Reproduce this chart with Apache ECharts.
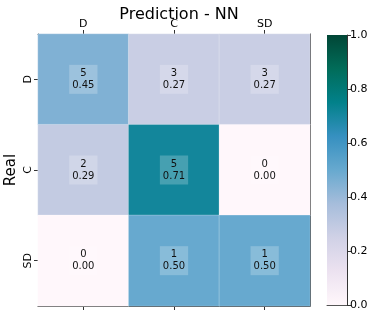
<!DOCTYPE html>
<html><head><meta charset="utf-8">
<script src="https://cdn.jsdelivr.net/npm/echarts@6/dist/echarts.min.js"></script>
<style>html,body{margin:0;padding:0;background:#fff}#c{width:374px;height:317px}</style>
</head><body><div id="c"></div>
<script>
var predLabels = ['D', 'C', 'SD'];
var realLabels = ['D', 'C', 'SD'];
// rows = real, columns = prediction
var counts = [
  [5, 3, 3],
  [2, 5, 0],
  [0, 1, 1]
];
var ratios = [
  [0.45, 0.27, 0.27],
  [0.29, 0.71, 0.00],
  [0.00, 0.50, 0.50]
];
var colorbarTicks = [0, 0.2, 0.4, 0.6, 0.8, 1.0];
var cmap = ['#fff7fb','#ece2f0','#d0d1e6','#a6bddb','#67a9cf','#3690c0','#02818a','#016c59','#014636'];

var data = [];
for (var r = 0; r < realLabels.length; r++) {
  for (var c = 0; c < predLabels.length; c++) {
    data.push([c, r, ratios[r][c], counts[r][c]]);
  }
}
var FONT = 'DejaVu Sans';
var chart = echarts.init(document.getElementById('c'), null, {renderer: 'canvas'});
chart.setOption({
  animation: false,
  title: {
    text: 'Prediction - NN', left: 174, top: 2, textAlign: 'center',
    textStyle: {fontFamily: FONT, fontSize: 16, fontWeight: 'normal', color: '#000'}
  },
  grid: [
    {left: 38, top: 34, width: 272, height: 272, containLabel: false, outerBoundsMode: 'none'},
    {left: 327, top: 35, width: 20, height: 270, containLabel: false, outerBoundsMode: 'none'}
  ],
  xAxis: [
    {type: 'category', data: predLabels, position: 'top', gridIndex: 0,
     axisLine: {show: true, lineStyle: {color: '#333'}},
     axisTick: {show: true, alignWithLabel: true, length: 4, lineStyle: {color: '#333'}},
     axisLabel: {fontFamily: FONT, fontSize: 11, color: '#000', margin: 4},
     splitArea: {show: false}},
    {type: 'category', data: predLabels, position: 'bottom', gridIndex: 0,
     axisLine: {show: true, lineStyle: {color: '#333'}},
     axisTick: {show: true, alignWithLabel: true, length: 4, lineStyle: {color: '#333'}},
     axisLabel: {show: false}},
    {type: 'category', data: [''], gridIndex: 1,
     axisLine: {show: true, lineStyle: {color: '#555'}}, axisTick: {show: false}, axisLabel: {show: false}}
  ],
  yAxis: [
    {type: 'category', data: realLabels, inverse: true, gridIndex: 0,
     name: 'Real', nameLocation: 'middle', nameRotate: 90, nameGap: 19, nameMoveOverlap: false,
     nameTextStyle: {fontFamily: FONT, fontSize: 15, color: '#000'},
     axisLine: {show: true, lineStyle: {color: '#333'}},
     axisTick: {show: true, alignWithLabel: true, length: 4, lineStyle: {color: '#333'}},
     axisLabel: {fontFamily: FONT, fontSize: 11, color: '#000', rotate: 90, margin: 4}},
    {type: 'category', data: realLabels, inverse: true, gridIndex: 0, position: 'right',
     axisLine: {show: true, lineStyle: {color: '#333'}}, axisTick: {show: false}, axisLabel: {show: false}},
    {type: 'value', gridIndex: 1, min: 0, max: 1, interval: 0.2, position: 'right',
     axisLine: {show: true, lineStyle: {color: '#333'}},
     axisTick: {show: true, length: 4, lineStyle: {color: '#333'}},
     splitLine: {show: false},
     axisLabel: {fontFamily: FONT, fontSize: 11, color: '#000', margin: 3,
                 formatter: function (v) { return v.toFixed(1); }}}
  ],
  visualMap: {
    show: false, min: 0, max: 1, dimension: 2, seriesIndex: 0,
    inRange: {color: cmap}
  },
  series: [
    {type: 'heatmap', xAxisIndex: 0, yAxisIndex: 0, data: data,
     itemStyle: {borderColor: 'rgba(255,255,255,0.25)', borderWidth: 1},
     label: {show: true, fontFamily: FONT, fontSize: 10, color: '#111', lineHeight: 12,
             backgroundColor: 'rgba(255,255,255,0.22)', padding: [3, 3, 2, 3], align: 'center',
             formatter: function (p) { return p.data[3] + '\n' + p.data[2].toFixed(2); }}},
    {type: 'bar', xAxisIndex: 2, yAxisIndex: 2, data: [1], barWidth: '100%', silent: true,
     itemStyle: {color: new echarts.graphic.LinearGradient(0, 1, 0, 0,
       cmap.map(function (col, i) { return {offset: i / (cmap.length - 1), color: col}; }))}}
  ]
});
</script></body></html>
